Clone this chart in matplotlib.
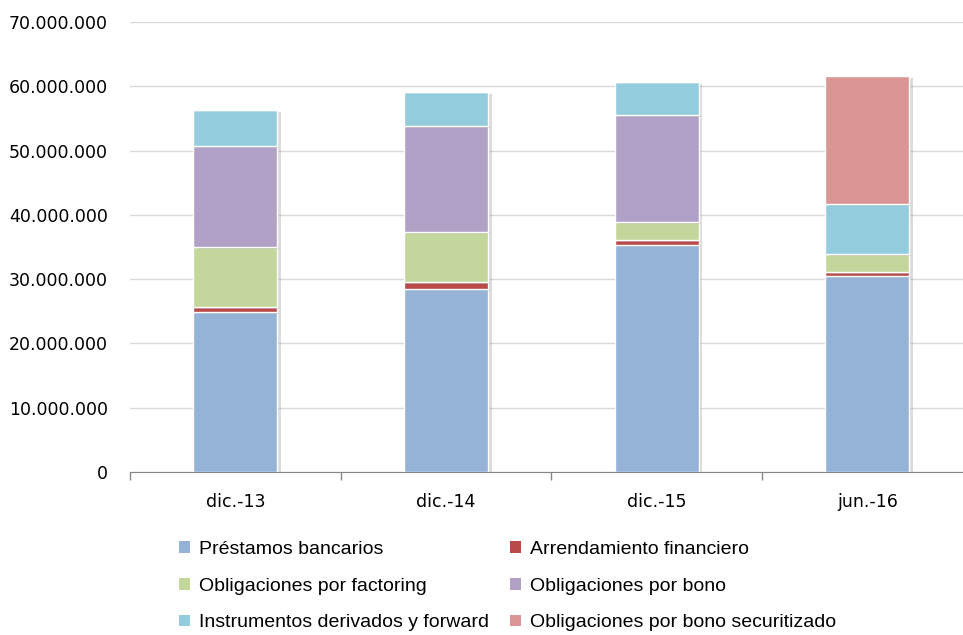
import matplotlib.pyplot as plt
import matplotlib.patheffects as pe
from matplotlib.ticker import FuncFormatter, FixedLocator
from matplotlib.patches import Patch

periodos = ["dic.-13", "dic.-14", "dic.-15", "jun.-16"]

prestamos = [24.9e6, 28.5e6, 35.35e6, 30.5e6]
arrendamiento = [0.7e6, 1.0e6, 0.75e6, 0.55e6]
factoring = [9.4e6, 7.8e6, 2.8e6, 2.8e6]
bono = [15.7e6, 16.5e6, 16.7e6, 0.0]
derivados = [5.55e6, 5.25e6, 5.0e6, 7.85e6]
securitizado = [0.0, 0.0, 0.0, 19.9e6]

series = [
    ("Préstamos bancarios", prestamos, "#95B3D7"),
    ("Arrendamiento financiero", arrendamiento, "#B94A48"),
    ("Obligaciones por factoring", factoring, "#C3D69B"),
    ("Obligaciones por bono", bono, "#B2A1C7"),
    ("Instrumentos derivados y forward", derivados, "#93CDDD"),
    ("Obligaciones por bono securitizado", securitizado, "#D99694"),
]

plt.rcParams["font.family"] = ["DejaVu Sans"]

fig = plt.figure(figsize=(9.63, 6.35), dpi=100)
ax = fig.add_axes([0.135, 0.2567, 0.875, 0.7087])

x = range(len(periodos))
bottom = [0.0] * len(periodos)
handles = []
for name, vals, color in series:
    bars = ax.bar(
        x, vals, width=0.4, bottom=bottom, color=color,
        edgecolor="white", linewidth=1.0, zorder=3
    )
    for b in bars:
        b.set_path_effects([
            pe.SimplePatchShadow(offset=(2.5, -1.5), shadow_rgbFace="#999999", alpha=0.35),
            pe.Normal(),
        ])
    bottom = [b + v for b, v in zip(bottom, vals)]
    handles.append(Patch(facecolor=color, edgecolor="none", label=name))

ax.set_xlim(-0.5, 3.5)
ax.set_ylim(0, 70e6)
ax.set_yticks([i * 10e6 for i in range(8)])
ax.yaxis.set_major_formatter(
    FuncFormatter(lambda v, p: f"{int(v):,}".replace(",", "."))
)
ax.grid(axis="y", color="#D9D9D9", linewidth=1.0, zorder=0)

ax.set_xticks(list(x))
ax.set_xticklabels(periodos)
ax.xaxis.set_minor_locator(FixedLocator([-0.5, 0.5, 1.5, 2.5, 3.5]))
ax.tick_params(axis="x", which="major", length=0, pad=15, labelsize=12.5, colors="#000000")
ax.tick_params(axis="x", which="minor", length=6, color="#868686", width=1)
ax.tick_params(axis="y", length=0, pad=16, labelsize=12.5)

for s in ["top", "right", "left"]:
    ax.spines[s].set_visible(False)
ax.spines["bottom"].set_color("#868686")

order = [0, 2, 4, 1, 3, 5]
fig.legend(
    [handles[i] for i in order],
    [handles[i].get_label() for i in order],
    ncol=2, loc="upper left", bbox_to_anchor=(0.168, 0.176),
    frameon=False, handlelength=0.55, handleheight=0.55,
    handletextpad=0.45, columnspacing=1.1, labelspacing=1.02,
    prop={"family": "Liberation Sans", "size": 14},
)

fig.savefig("out.png", dpi=100)
